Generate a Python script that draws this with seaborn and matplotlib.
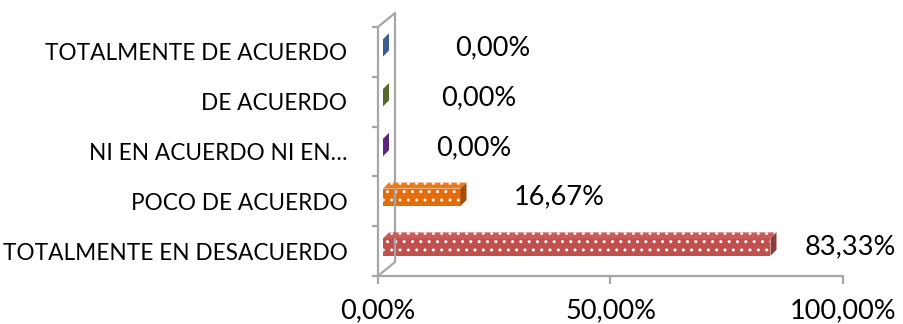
import matplotlib
matplotlib.use("Agg")
import matplotlib.pyplot as plt
from matplotlib.patches import Polygon
from matplotlib.transforms import ScaledTranslation
import seaborn as sns
import pandas as pd

# Response categories (as shown on the axis) and their shares in percent
categories = [
    "TOTALMENTE DE ACUERDO",
    "DE ACUERDO",
    "NI EN ACUERDO NI EN…",
    "POCO DE ACUERDO",
    "TOTALMENTE EN DESACUERDO",
]
percentages = [0.00, 0.00, 0.00, 16.67, 83.33]
x_ticks = [0, 50, 100]

# Front / top / side colours for each bar
front_colors = ["#4F81BD", "#77933C", "#7030A0", "#E46C0A", "#C0504D"]
top_colors = ["#5B8CC6", "#86A24A", "#7E3DAE", "#EA7A1E", "#C95C59"]
side_colors = ["#3A5F8C", "#56692B", "#5A267F", "#A34D08", "#8E3A38"]
# horizontal offsets (px) for the value labels
label_dx = [72, 58, 53, 53, 34]

DPI = 100
W, H = 904, 324
FONT = "Lato"

sns.set_theme(style="white")
plt.rcParams["font.family"] = [FONT, "DejaVu Sans"]
plt.rcParams["hatch.linewidth"] = 1.0

df = pd.DataFrame({"cat": categories, "pct": percentages})

fig = plt.figure(figsize=(W / DPI, H / DPI), dpi=DPI)
# axes: x 0..100 spans px 378..843, rows span px 27..276 from the top
ax = fig.add_axes([378 / W, 48 / H, 465 / W, 249 / H])

sns.barplot(data=df, x="pct", y="cat", orient="h", hue="cat",
            palette=front_colors, legend=False, width=0.35,
            linewidth=0, saturation=1, ax=ax)

ax.set_xlim(0, 100)
ax.set_ylim(4.5, -0.5)
for s in ax.spines.values():
    s.set_visible(False)

# bars sit a little inside the 3-D box (right and up)
shift = ScaledTranslation(5 / DPI, 4 / DPI, fig.dpi_scale_trans)
depth_dx, depth_dy = 6, 6   # px depth of each bar
fig.canvas.draw()
to_px = ax.transData

for i, bar in enumerate(ax.patches):
    bar.set_transform(ax.transData + shift)
    bar.set_hatch("..")
    bar.set_edgecolor("white")
    bar.set_linewidth(0)
    bar.set_zorder(3)
    x0, y0 = bar.get_x(), bar.get_y()
    w, h = bar.get_width(), bar.get_height()
    # corners in pixels
    (lx, ty), (rx, by) = to_px.transform([(x0, y0), (x0 + w, y0 + h)])
    lx += 5; rx += 5; ty += 4; by += 4
    top = Polygon([(lx, ty), (rx, ty), (rx + depth_dx, ty + depth_dy),
                   (lx + depth_dx, ty + depth_dy)], closed=True,
                  transform=None, facecolor=top_colors[i], edgecolor="white",
                  linewidth=0, hatch="..", zorder=3)
    side = Polygon([(rx, ty), (rx, by), (rx + depth_dx, by + depth_dy),
                    (rx + depth_dx, ty + depth_dy)], closed=True,
                   transform=None, facecolor=side_colors[i], edgecolor="none",
                   linewidth=0, zorder=3)
    if w > 0:
        fig.add_artist(top)
    fig.add_artist(side)
    # value label
    ax.annotate(f"{percentages[i]:.2f}%".replace(".", ","),
                xy=(x0 + w, i), xytext=(label_dx[i] + 5, 4),
                textcoords="offset pixels", ha="left", va="center",
                fontsize=19.5, color="black", zorder=5)

# 3-D box lines: front axis, back wall edge, connecting diagonals, floor
grey = "#A6A6A6"
box = [
    [(378, 27), (378, 276)],
    [(395, 13), (395, 262)],
    [(378, 27), (395, 13)],
    [(378, 276), (395, 262)],
    [(378, 276), (843, 276)],
]
for seg in box:
    xs = [p[0] / W for p in seg]
    ys = [1 - p[1] / H for p in seg]
    fig.add_artist(plt.Line2D(xs, ys, transform=fig.transFigure,
                              color=grey, linewidth=1.6, zorder=1))

ax.set_xticks(x_ticks)
ax.set_xticklabels([f"{v:.2f}%".replace(".", ",") for v in x_ticks],
                   fontsize=19.5)
ax.tick_params(axis="x", bottom=True, length=6, width=1.6, color=grey,
               pad=10, labelcolor="black")
ax.tick_params(axis="y", left=True, length=4, width=1.6, color=grey,
               labelcolor="black")
ax.set_yticks([-0.5, 0.5, 1.5, 2.5, 3.5, 4.5], minor=False)
ax.set_yticklabels([])
ax.set_yticks(range(len(categories)), minor=True)
ax.set_yticklabels(categories, minor=True)
ax.tick_params(axis="y", which="minor", left=False, pad=18,
               labelsize=16.3, labelcolor="black")
ax.set_xlabel("")
ax.set_ylabel("")
ax.patch.set_alpha(0)

fig.savefig("out.png", dpi=DPI)
